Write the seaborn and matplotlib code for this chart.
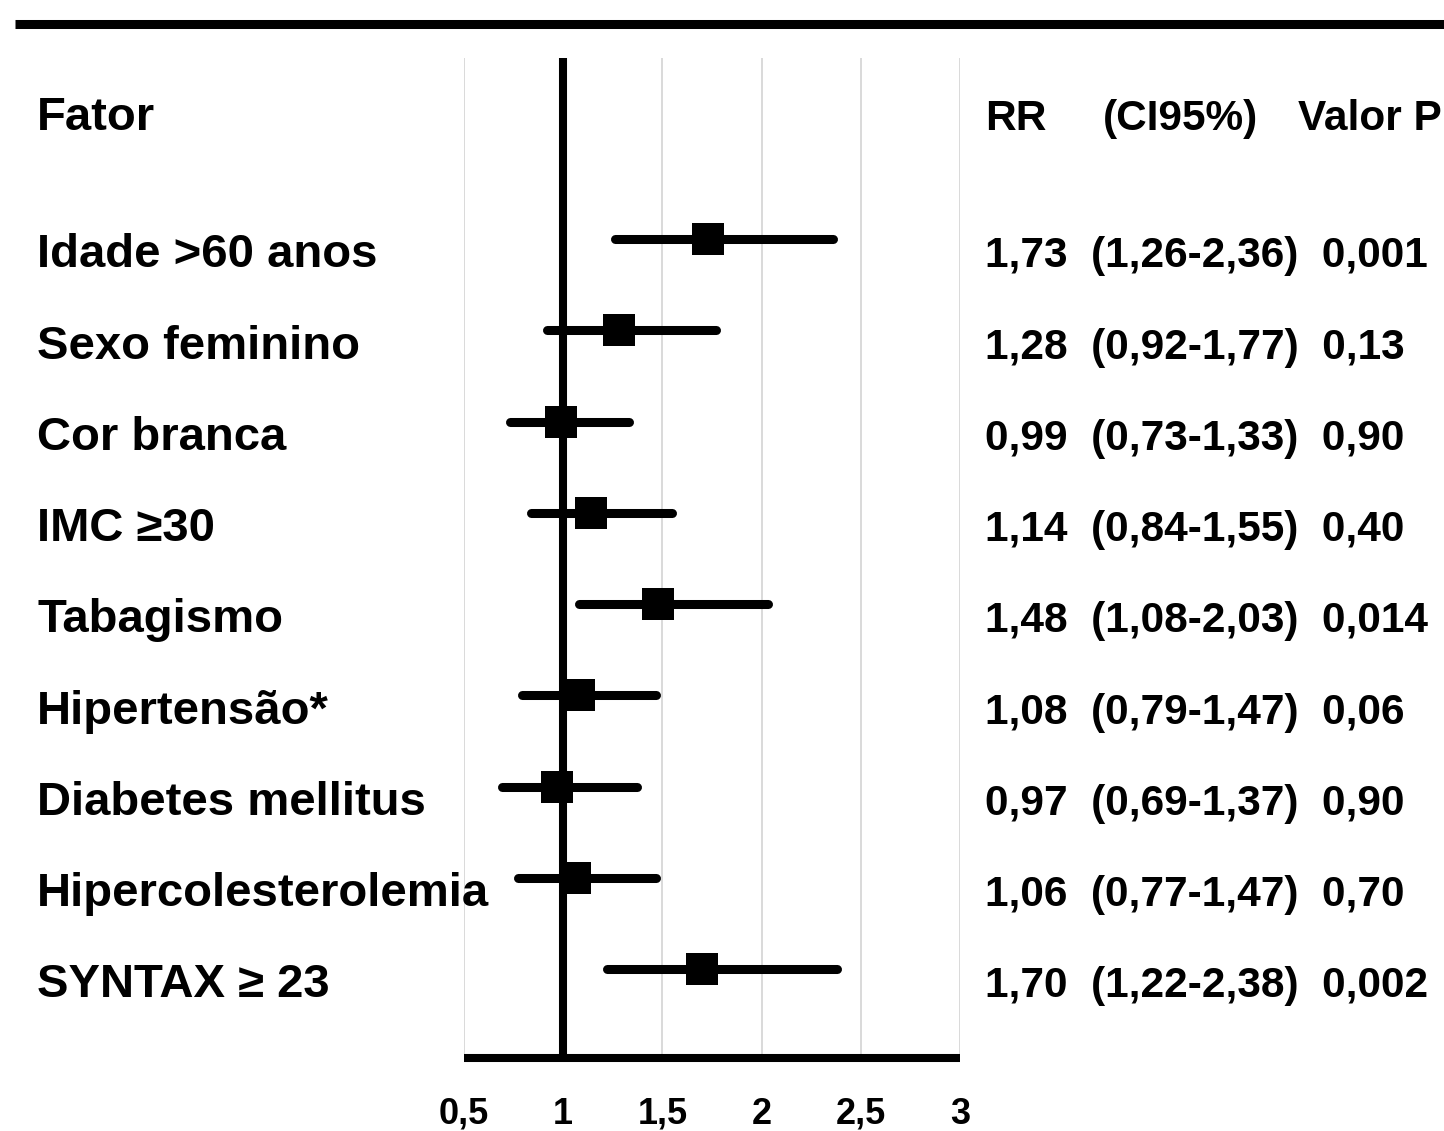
import matplotlib
matplotlib.use("Agg")
import matplotlib.pyplot as plt
import matplotlib.transforms as mtransforms
from matplotlib.lines import Line2D
import pandas as pd
import seaborn as sns

# values
factors = ["Idade >60 anos", "Sexo feminino", "Cor branca", "IMC \u226530", "Tabagismo",
           "Hipertensão*", "Diabetes mellitus", "Hipercolesterolemia", "SYNTAX \u2265 23"]
rr = [1.73, 1.28, 0.99, 1.14, 1.48, 1.08, 0.97, 1.06, 1.70]
ci_low = [1.26, 0.92, 0.73, 0.84, 1.08, 0.79, 0.69, 0.77, 1.22]
ci_high = [2.36, 1.77, 1.33, 1.55, 2.03, 1.47, 1.37, 1.47, 2.38]
p_values = ["0,001", "0,13", "0,90", "0,40", "0,014", "0,06", "0,90", "0,70", "0,002"]
x_ticks = [0.5, 1, 1.5, 2, 2.5, 3]
x_tick_labels = ["0,5", "1", "1,5", "2", "2,5", "3"]


def fmt(v):
    return f"{v:.2f}".replace(".", ",")


df = pd.DataFrame({"factor": factors, "rr": rr, "low": ci_low, "high": ci_high,
                   "row": range(len(factors))})

sns.set_theme(style="white")
plt.rcParams['font.family'] = ['Liberation Sans', 'DejaVu Sans']
plt.rcParams['font.weight'] = 'bold'
plt.rcParams['text.color'] = 'black'
plt.rcParams['xtick.color'] = 'black'

fig = plt.figure(figsize=(14.44, 11.31), dpi=100)
ax = fig.add_axes([464 / 1444, 73 / 1131, 496 / 1444, 1000 / 1131])

# grid + reference line at RR=1
for xv in x_ticks:
    if xv != 1:
        ax.axvline(xv, color="#d9d9d9", lw=1.4, zorder=0)
ax.axvline(1, color="black", lw=5.8, zorder=1)

ax.hlines(df["row"], df["low"], df["high"], color="black", lw=6.5,
          capstyle="round", zorder=2)
sns.scatterplot(data=df, x="rr", y="row", marker="s", s=500, color="black",
                edgecolor="black", linewidth=0, zorder=3, ax=ax)

ax.set_xlim(0.5, 3)
ax.set_ylim(8.975, -1.984)
ax.set_xlabel("")
ax.set_ylabel("")
ax.set_yticks([])
ax.set_xticks(x_ticks)
ax.set_xticklabels(x_tick_labels, fontsize=26, fontweight="bold", color="black")
ax.tick_params(axis="x", length=0, pad=28)
for side in ["top", "left", "right"]:
    ax.spines[side].set_visible(False)
ax.spines["bottom"].set_color("black")
ax.spines["bottom"].set_linewidth(5.8)
ax.spines["bottom"].set_capstyle("butt")

# text columns: figure x, data y
trans = mtransforms.blended_transform_factory(fig.transFigure, ax.transData)
base = 0.31
head_y = -1.39 + 0.19
ax.text(37 / 1444, head_y, "Fator", transform=trans, fontsize=34,
        fontweight="bold", va="baseline", ha="left")
ax.text(985 / 1444, head_y, "RR", transform=trans, fontsize=30.5,
        fontweight="bold", va="baseline", ha="left")
ax.text(1103 / 1444, head_y, "(CI95%)", transform=trans, fontsize=30.5,
        fontweight="bold", va="baseline", ha="left")
ax.text(1298 / 1444, head_y, "Valor P", transform=trans, fontsize=30.5,
        fontweight="bold", va="baseline", ha="left")

for i, name in enumerate(factors):
    ax.text(37 / 1444, i + base, name, transform=trans, fontsize=34,
            fontweight="bold", va="baseline", ha="left")
    label = f"{fmt(rr[i])}  ({fmt(ci_low[i])}-{fmt(ci_high[i])})  {p_values[i]}"
    ax.text(985 / 1444, i + base, label, transform=trans, fontsize=30.5,
            fontweight="bold", va="baseline", ha="left")

# heavy rule across the top
fig.add_artist(Line2D([15 / 1444, 1.0], [1 - 23.5 / 1131, 1 - 23.5 / 1131],
                      transform=fig.transFigure, color="black", lw=6.5,
                      solid_capstyle="butt"))

fig.savefig("out.png", dpi=100, facecolor="white")
